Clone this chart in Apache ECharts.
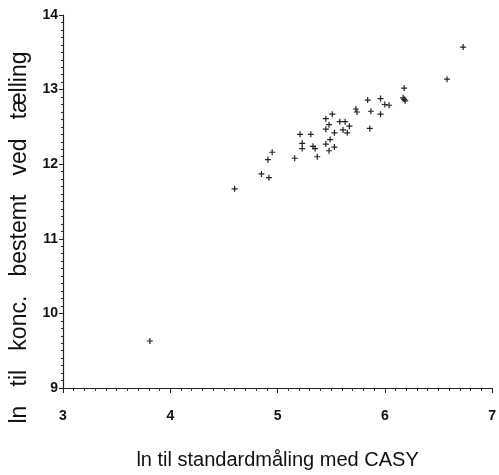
<!DOCTYPE html>
<html><head><meta charset="utf-8">
<script src="https://cdn.jsdelivr.net/npm/echarts@6/dist/echarts.min.js"></script>
<style>html,body{margin:0;padding:0;background:#fff}#c{width:499px;height:475px}</style>
</head><body><div id="c"></div>
<script>
const xTicks = [3, 4, 5, 6, 7];
const yTicks = [9, 10, 11, 12, 13, 14];
const xValues = [3.81, 4.60, 4.85, 4.92, 4.91, 4.95, 5.16, 5.21, 5.23, 5.23, 5.31, 5.33, 5.35, 5.37,
  5.45, 5.48, 5.51, 5.45, 5.53, 5.45, 5.49, 5.48, 5.53, 5.58, 5.63, 5.61, 5.67, 5.65,
  5.73, 5.74, 5.84, 5.87, 5.86, 5.96, 5.96, 6.00, 6.04, 6.18, 6.17, 6.19, 6.18, 6.58, 6.73];
const yValues = [9.63, 11.67, 11.87, 11.82, 12.06, 12.16, 12.08, 12.40, 12.28, 12.21, 12.40, 12.24, 12.21, 12.10,
  12.61, 12.53, 12.67, 12.47, 12.42, 12.27, 12.33, 12.18, 12.23, 12.57, 12.57, 12.46, 12.51, 12.42,
  12.74, 12.70, 12.86, 12.71, 12.48, 12.88, 12.67, 12.80, 12.79, 13.02, 12.89, 12.85, 12.87, 13.14, 13.57];
const xName = 'ln til standardmåling med CASY';
const yName = 'ln   til   konc.   bestemt   ved   tælling';

const pts = xValues.map((x, i) => [x, yValues[i]]);
const font = '"Liberation Sans Narrow", "Arial Narrow", "Liberation Sans", Arial, sans-serif';
const chart = echarts.init(document.getElementById('c'));
chart.setOption({
  backgroundColor: '#fff',
  animation: false,
  grid: {left: 63, right: 4, top: 15, bottom: 82},
  xAxis: {
    type: 'value', min: 3, max: 7, interval: 1,
    axisLine: {lineStyle: {color: '#222', width: 1.2}},
    axisTick: {show: true, length: 5, lineStyle: {color: '#222'}},
    minorTick: {show: true, splitNumber: 10, length: 3, lineStyle: {color: '#333'}},
    splitLine: {show: false},
    axisLabel: {color: '#111', fontFamily: font, fontSize: 14, fontWeight: 'bold', margin: 21,
      formatter: v => xTicks.includes(v) ? String(v) : ''},
    name: xName, nameLocation: 'middle', nameGap: 62,
    nameTextStyle: {color: '#111', fontFamily: font, fontSize: 20}
  },
  yAxis: {
    type: 'value', min: 9, max: 14, interval: 1,
    axisLine: {show: true, lineStyle: {color: '#222', width: 1.2}},
    axisTick: {show: true, length: 4, lineStyle: {color: '#222'}},
    minorTick: {show: true, splitNumber: 10, length: 2, lineStyle: {color: '#333'}},
    splitLine: {show: false},
    axisLabel: {color: '#111', fontFamily: font, fontSize: 14, fontWeight: 'bold', margin: 5,
      formatter: v => yTicks.includes(v) ? String(v) : ''},
    name: yName, nameLocation: 'middle', nameGap: 25,
    nameTextStyle: {color: '#111', fontFamily: '"Liberation Sans", Arial, sans-serif', fontSize: 23,
      padding: [0, 72, 0, 0]}
  },
  series: [{
    type: 'scatter',
    data: pts,
    symbol: 'path://M4,0H6V4H10V6H6V10H4V6H0V4H4Z',
    symbolSize: 6,
    itemStyle: {color: '#222', opacity: 1}
  }]
});
</script></body></html>
